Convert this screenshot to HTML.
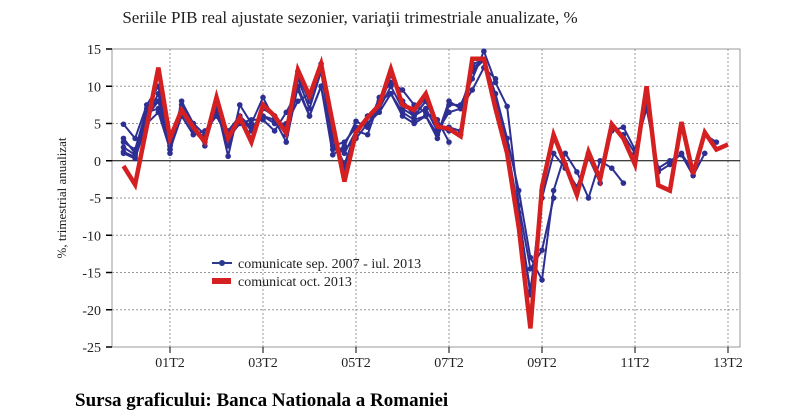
<!DOCTYPE html>
<html><head><meta charset="utf-8"><style>
body{margin:0;background:#fff;}
svg{display:block;font-family:"Liberation Serif",serif;}
</style></head><body>
<svg id="chart" width="802" height="415" viewBox="0 0 802 415">
<text x="350" y="23" font-size="17" text-anchor="middle" fill="#222">Seriile PIB real ajustate sezonier, variaţii trimestriale anualizate, %</text>
<text transform="translate(66,198) rotate(-90)" font-size="13" text-anchor="middle" fill="#222">%, trimestrial anualizat</text>
<g id="grid"></g>
<g id="series"></g>
<g id="axes"></g>
<g>
 <line x1="212" y1="263" x2="232" y2="263" stroke="#2b3a8f" stroke-width="2"/>
 <circle cx="222" cy="263" r="3" fill="#2b3a8f"/>
 <text x="238" y="268" font-size="14" fill="#222">comunicate sep. 2007 - iul. 2013</text>
 <rect x="212" y="278" width="19" height="6" fill="#d42020"/>
 <text x="238" y="286" font-size="14" fill="#222">comunicat oct. 2013</text>
</g>
<text x="75" y="406" font-size="19" font-weight="bold" fill="#000">Sursa graficului: Banca Nationala a Romaniei</text>
</svg>
<script>
const yTicks=[15,10,5,0,-5,-10,-15,-20,-25];
const xTickLabels=["01T2","03T2","05T2","07T2","09T2","11T2","13T2"];
const xTickIdx=[0,8,16,24,32,40,48];
const startIdx=-4;
const red=[-0.7,-3.2,4.6,12.5,3,6.8,4.5,2.5,8.5,3,5.8,2.5,7.5,6,3.7,12.2,8.7,13,5,-2.8,3.8,5.8,7.5,12.3,7.5,6.8,9,4.6,4.3,3.3,13.7,13.7,7,1,-9,-22.5,-3.5,3.5,-0.5,-4.6,1.2,-2.5,4.9,3,-0.5,10,-3.3,-4,5.2,-1.8,3.8,1.5,2.2];
const blue1=[4.9,3,7.5,10,1,8,5,2,7.5,0.6,7.5,5,8.5,5.5,2.5,10,6,10,0.8,2,5.3,4.5,8.5,10.5,9.5,7.5,6.5,5.5,2.5];
const blue2=[3,1,6.5,7,2,7,4,3,7,2,6,4,6,5,5,8,9,13,2,1,4,3.5,8,9,6,5,6,3.5,8,7,9.5,12.5,11];
const blue3=[1,0.3,5,6.5,1.5,6,3.5,4,6,3,5,5.5,5.5,4,6.5,9.5,6,10,1.5,1.5,3,5,6.5,9,6.5,5.5,6,3,7.5,7.5,11,14.7,10.5,7.3,-6,-14.5,-12,-5];
const blue4=[2.5,1.5,7,8,2.5,7.5,5,3.5,6.5,4,6,4.5,6,5.5,4.5,11,7,12,2,2.5,4.5,5,7,10,7,6,7,4,6.5,7,12,13.5,9,3,-4,-13,-16,-4,1,-1.5,-5,0,-1,-3];
const blue5=[1.8,0.8,6,9,1.5,6.5,4,2.5,7,2.5,5.5,3,7,6,3.5,11.5,8,12.5,3,-0.5,4,6,7,11.5,8,6,8,4.5,4.5,4,12.5,13.5,7.5,2,-7.5,-17.5,-5,1,-1,-3.5,0.5,-3,4,4.5,1.5,7,-1,0,0.8,-2,1];
const blue6=[1.2,0.5,6,8,2,7,4.5,3,8,3,6,3,7.5,6,3.5,12,8.5,12.5,4,-1,4,6,7.5,12,8,6.5,8.5,4.5,4,3.5,13,13.5,8,2,-7,-18,-4,3,-0.5,-4,1,-2,4.5,3.5,1,8,-1.5,-0.5,1,-1.5,3.5,2.5];
const blues=[blue1,blue2,blue3,blue4,blue5,blue6];

const NS="http://www.w3.org/2000/svg";
const L=112,R=740,T=49,B=347;
const X=i=>170+(i)*11.625;
const Y=v=>T+(15-v)*(B-T)/40;
function mk(tag,attrs,parent){const e=document.createElementNS(NS,tag);for(const k in attrs)e.setAttribute(k,attrs[k]);parent.appendChild(e);return e;}
const grid=document.getElementById('grid'),ser=document.getElementById('series'),ax=document.getElementById('axes');
mk('rect',{x:L,y:T,width:R-L,height:B-T,fill:'none',stroke:'#999','stroke-width':1},grid);
yTicks.forEach(v=>{
 if(v!==0&&v!==15&&v!==-25){const g=mk('line',{x1:L,x2:R,y1:Y(v),y2:Y(v),stroke:'#999','stroke-dasharray':'2,2'},grid);
 
 }
 const t=mk('line',{x1:L-6,x2:L,y1:Y(v),y2:Y(v),stroke:'#000','stroke-width':1.5},ax);
 
 
 const lb=mk('text',{x:L-11,y:Y(v)+5,'font-size':14,'text-anchor':'end',fill:'#222'},ax);
 lb.textContent=v;
 
 
});
xTickIdx.forEach((q,k)=>{
 const g=mk('line',{x1:X(q),x2:X(q),y1:T,y2:B,stroke:'#999','stroke-dasharray':'2,2'},grid);
 
 
 const t=mk('line',{x1:X(q),x2:X(q),y1:B,y2:B+6,stroke:'#000'},ax);
 
 
 const lb=mk('text',{x:X(q),y:B+20,'font-size':14,'text-anchor':'middle',fill:'#222'},ax);
 lb.textContent=xTickLabels[k];
 
 
});
const z=mk('line',{x1:L,x2:R,y1:Y(0),y2:Y(0),stroke:'#000','stroke-width':1},grid);


function pts(arr){return arr.map((v,i)=>X(startIdx+i).toFixed(1)+','+Y(v).toFixed(1)).join(' ');}
blues.forEach((arr,s)=>{
 const p=mk('polyline',{points:pts(arr),fill:'none',stroke:'#2e2f93','stroke-width':2},ser);
 
 
 arr.forEach((v,i)=>{const c=mk('circle',{cx:X(startIdx+i),cy:Y(v),r:2.8,fill:'#2e2f93'},ser);
 
 });
});
const rp=mk('polyline',{points:pts(red),fill:'none',stroke:'#d42020','stroke-width':4.5,'stroke-linejoin':'miter'},ser);


</script>
</body></html>
